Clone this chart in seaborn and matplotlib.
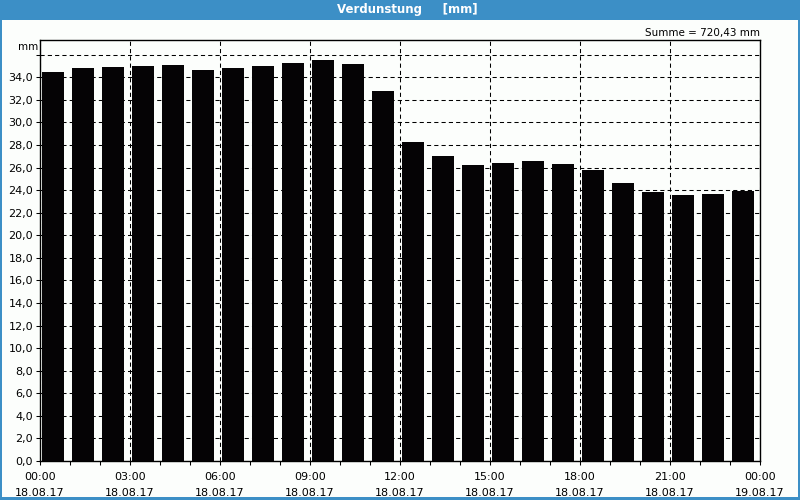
import matplotlib
matplotlib.use("Agg")
import matplotlib.pyplot as plt
import matplotlib.patches as mpatches
import numpy as np
import pandas as pd
import seaborn as sns

# ---- data ----
hours = list(range(24))
values = [34.5, 34.8, 34.9, 35.0, 35.1, 34.6, 34.8, 35.0, 35.3, 35.5, 35.2, 32.8,
          28.3, 27.0, 26.2, 26.4, 26.6, 26.3, 25.8, 24.6, 23.8, 23.6, 23.7, 23.9]
major_hours = [0, 3, 6, 9, 12, 15, 18, 21, 24]
time_labels = ["00:00", "03:00", "06:00", "09:00", "12:00", "15:00", "18:00", "21:00", "00:00"]
date_labels = ["18.08.17"] * 8 + ["19.08.17"]
y_ticks = list(range(0, 37, 2))
title = "Verdunstung     [mm]"
sum_text = "Summe = 720,43 mm"
unit = "mm"

sns.set_theme(style="white")
plt.rcParams['font.family'] = ['DejaVu Sans']
plt.rcParams['text.color'] = 'black'
plt.rcParams['xtick.color'] = 'black'
plt.rcParams['ytick.color'] = 'black'
plt.rcParams['xtick.labelcolor'] = 'black'
plt.rcParams['ytick.labelcolor'] = 'black'

bg = "#fcfefc"
blue = "#3c8fc6"
fig = plt.figure(figsize=(8, 5), dpi=100, facecolor=bg)
ax = fig.add_axes([40/800, 1-461/500, 720/800, 421/500])
ax.set_facecolor(bg)

df = pd.DataFrame({"pos": [h + 13/30 for h in hours], "value": values})
sns.barplot(data=df, x="pos", y="value", native_scale=True, width=22/30,
            color="#050305", saturation=1, ax=ax, zorder=1,
            edgecolor="none", linewidth=0)

ax.set_xlim(0, 24)
ax.set_ylim(0, 37.3)

# grid
ax.set_axisbelow(True)
ax.set_xticks(major_hours)
ax.set_xticks(hours, minor=True)
ax.set_xticklabels([f"{t}\n{d}" for t, d in zip(time_labels, date_labels)],
                   fontsize=8, color="#000000", linespacing=1.75)
ax.set_yticks(y_ticks)
ax.set_yticklabels([f"{v:.1f}".replace(".", ",") if v < 36 else "" for v in y_ticks],
                   fontsize=8, color="#000000")
ax.grid(True, which="major", axis="both", color="black", linewidth=0.75,
        linestyle=(0, (4, 3)))
ax.tick_params(axis="x", which="major", direction="out", length=3, width=0.75,
               color="black", pad=5, bottom=True)
ax.tick_params(axis="y", which="major", direction="out", length=3, width=0.75,
               color="black", pad=2, left=True)
ax.tick_params(axis="x", which="minor", direction="out", length=3, width=0.75,
               color="black", bottom=True)
ax.set_xlabel("")
ax.set_ylabel("")
for s in ax.spines.values():
    s.set_visible(True)
    s.set_color("black")
    s.set_linewidth(1)

# texts
fig.text(28/800, 1-47/500, unit, fontsize=7.5, ha="center", va="center", color="black")
fig.text(760/800, 1-33/500, sum_text, fontsize=7.5, ha="right", va="center", color="black")

# title bar & frame
fig.patches.append(mpatches.Rectangle((0, 1-20/500), 1, 20/500, transform=fig.transFigure,
                                      facecolor=blue, edgecolor="none", zorder=-1))
fig.text(407/800, 1-10/500, title, fontsize=8.5, ha="center", va="center",
         color="white", fontweight="bold")
for rect in [(0, 0, 2/800, 1), (798/800, 0, 2/800, 1), (0, 0, 1, 3/500)]:
    fig.patches.append(mpatches.Rectangle(rect[:2], rect[2], rect[3], transform=fig.transFigure,
                                          facecolor=blue, edgecolor="none", zorder=-1))

fig.savefig("out.png", dpi=100, facecolor=bg)
